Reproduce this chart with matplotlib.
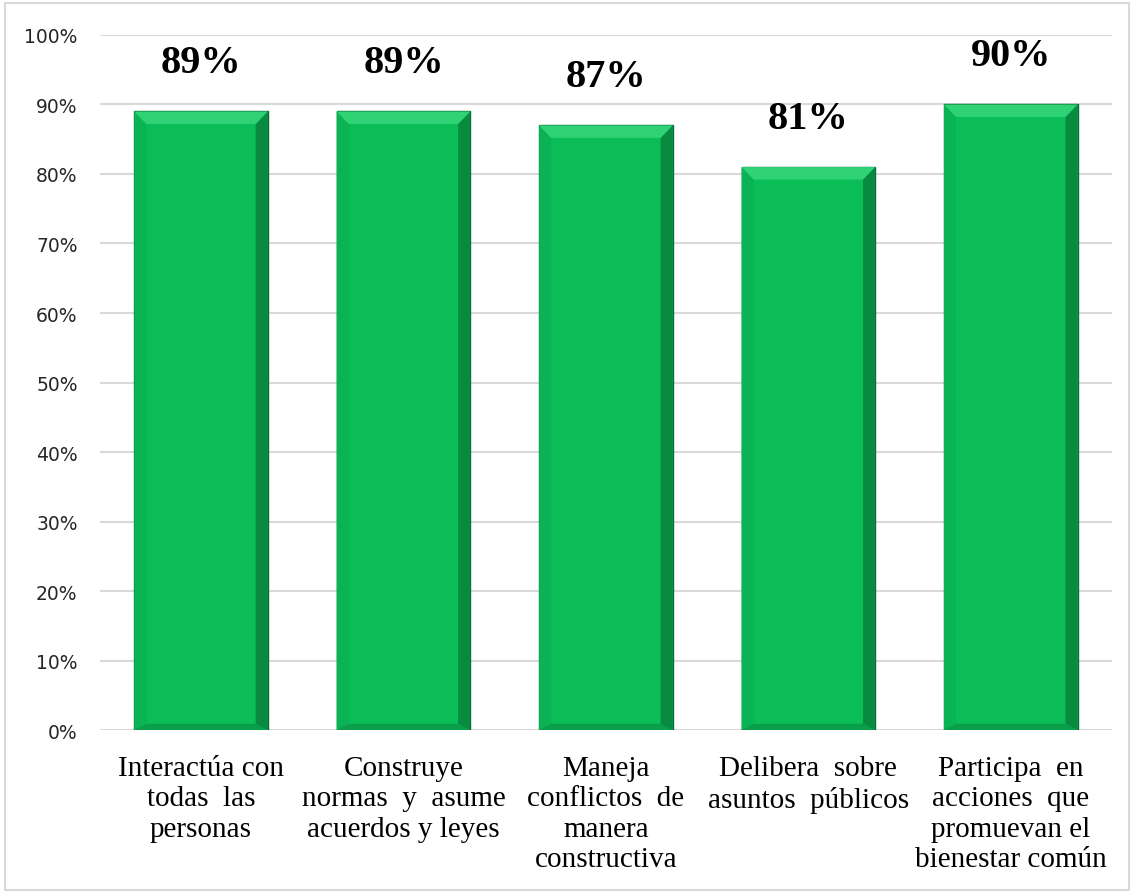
import matplotlib.pyplot as plt
from matplotlib.patches import Polygon, Rectangle
from matplotlib.ticker import PercentFormatter

# Data
categories = ["Interactúa con\ntodas  las\npersonas",
              "Construye\nnormas  y  asume\nacuerdos y leyes",
              "Maneja\nconflictos  de\nmanera\nconstructiva",
              "Delibera  sobre\nasuntos  públicos",
              "Participa  en\nacciones  que\npromuevan el\nbienestar común"]
values = [89, 89, 87, 81, 90]
value_labels = ["89%", "89%", "87%", "81%", "90%"]

fig = plt.figure(figsize=(11.34, 8.95), dpi=100)
ax = fig.add_axes([0.088, 0.1832, 0.8926, 0.7766])

bar_w = 0.66
bars = ax.bar(range(len(values)), values, width=bar_w, color="#0BBD57",
              edgecolor="#0a6b33", linewidth=1.0, zorder=3)

# bevel look: lighter top strip, darker right strip
bx = 0.06    # bevel width in x data units (~12 px)
by = 1.8     # bevel height in y data units (~12 px)
for b in bars:
    x0, w, h = b.get_x(), b.get_width(), b.get_height()
    x1 = x0 + w
    top = Polygon([(x0, h), (x1, h), (x1 - bx, h - by), (x0 + bx, h - by)],
                  closed=True, facecolor="#2fd376", edgecolor="none", zorder=4)
    right = Polygon([(x1, h), (x1, 0), (x1 - bx, by * 0.5), (x1 - bx, h - by)],
                    closed=True, facecolor="#088a40", edgecolor="none", zorder=4)
    left = Polygon([(x0, h), (x0, 0), (x0 + bx, by * 0.5), (x0 + bx, h - by)],
                   closed=True, facecolor="#0ab454", edgecolor="none", zorder=4)
    bottom = Polygon([(x0, 0), (x1, 0), (x1 - bx, by * 0.5), (x0 + bx, by * 0.5)],
                     closed=True, facecolor="#0a9e4a", edgecolor="none", zorder=4)
    for p in (left, bottom, right, top):
        ax.add_patch(p)

for i, (v, lab) in enumerate(zip(values, value_labels)):
    ax.annotate(lab, (i, v), xytext=(0, 35), textcoords="offset points",
                ha="center", va="center", fontsize=29, fontweight="bold",
                family="Liberation Serif", color="black")

ax.set_ylim(0, 100)
ax.set_xlim(-0.5, len(values) - 0.5)
ax.set_yticks(range(0, 101, 10))
ax.yaxis.set_major_formatter(PercentFormatter(decimals=0))
ax.tick_params(axis="y", length=0, pad=16, labelsize=13.5, labelcolor="#262626")
ax.set_xticks(range(len(values)))
ax.set_xticklabels(categories, fontsize=21, family="Liberation Serif",
                   linespacing=1.22, va="top")
ax.tick_params(axis="x", length=0, pad=18)
ax.grid(axis="y", color="#d9d9d9", linewidth=1.5, zorder=0)
ax.set_axisbelow(True)
for s in ax.spines.values():
    s.set_visible(False)

# outer chart border
fig.patches.append(Rectangle((0.004, 0.004), 0.992, 0.992, transform=fig.transFigure,
                             fill=False, edgecolor="#d9d9d9", linewidth=1.5))

fig.savefig("out.png", dpi=100)
